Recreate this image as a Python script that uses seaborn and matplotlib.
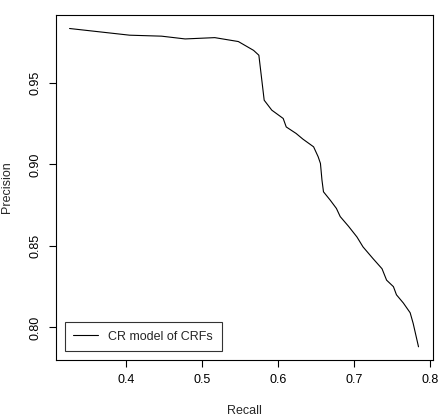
import numpy as np
import pandas as pd
import seaborn as sns
import matplotlib.pyplot as plt

# precision-recall curve values
recall = [0.326, 0.405, 0.447, 0.478, 0.517, 0.548, 0.568, 0.575, 0.582, 0.592,
          0.607, 0.611, 0.624, 0.633, 0.647, 0.653, 0.656, 0.658, 0.660, 0.669,
          0.677, 0.682, 0.693, 0.704, 0.712, 0.725, 0.737, 0.743, 0.752, 0.756,
          0.765, 0.774, 0.778, 0.785]
precision = [0.9834, 0.9793, 0.9787, 0.9770, 0.9778, 0.9754, 0.9700, 0.9670, 0.9394, 0.9333,
             0.9282, 0.9230, 0.9190, 0.9155, 0.9108, 0.9047, 0.9006, 0.8904, 0.8832, 0.8780,
             0.8730, 0.8680, 0.8620, 0.8555, 0.8494, 0.8423, 0.8360, 0.8290, 0.8250, 0.8200,
             0.8150, 0.8090, 0.8024, 0.7881]
series_name = "CR model of CRFs"
x_ticks = [0.4, 0.5, 0.6, 0.7, 0.8]
y_ticks = [0.80, 0.85, 0.90, 0.95]

df = pd.DataFrame({"Recall": recall, "Precision": precision})

sns.set_style("ticks")
plt.rcParams["font.family"] = ["Liberation Sans", "DejaVu Sans"]
plt.rcParams["font.size"] = 9

fig = plt.figure(figsize=(4.4, 4.16), dpi=100)
ax = fig.add_axes([0.127, 0.1346, 0.857, 0.8294])

sns.lineplot(data=df, x="Recall", y="Precision", sort=False, color="black",
             linewidth=0.8, ax=ax, label=series_name)

ax.set_xlim(0.308, 0.804)
ax.set_ylim(0.780, 0.9917)
ax.set_xticks(x_ticks)
ax.set_xticklabels([f"{v:.1f}" for v in x_ticks])
ax.set_yticks(y_ticks)
ax.set_yticklabels([f"{v:.2f}" for v in y_ticks], rotation=90, va="center")
ax.tick_params(direction="out", length=5, width=0.8, labelsize=9, colors="black", pad=5)

for s in ax.spines.values():
    s.set_visible(True)
    s.set_linewidth(0.8)
    s.set_color("black")

# axis titles sit near the figure edges, as in the original
ax.set_xlabel("Recall", fontsize=9)
ax.set_ylabel("Precision", fontsize=9)
ax.xaxis.set_label_coords(0.5, -0.13)
ax.yaxis.set_label_coords(-0.115, 0.5)

leg = ax.legend(loc="lower left", fontsize=9, frameon=True, fancybox=False,
                edgecolor="black", borderaxespad=0.7, handlelength=2.0,
                borderpad=0.7)
leg.get_frame().set_linewidth(0.8)

fig.savefig("out.png", dpi=100)
